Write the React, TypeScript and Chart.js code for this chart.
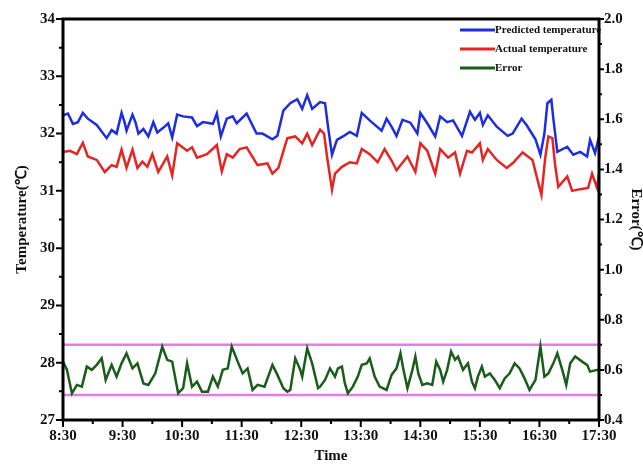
import React, { useEffect, useRef } from 'react';
import { Chart, registerables } from 'chart.js';

Chart.register(...registerables);

// Time axis: minutes after 8:30
const xTickLabels = ['8:30', '9:30', '10:30', '11:30', '12:30', '13:30', '14:30', '15:30', '16:30', '17:30'];

const predTimes = [0, 5, 10, 15, 20, 25, 34, 44, 49, 54, 59, 62, 64, 70, 73, 76, 81, 86, 91, 95, 101, 106, 110, 115, 121, 130, 135, 141, 151, 155, 159, 165, 171, 175, 185, 195, 201, 211, 216, 222, 229, 236, 241, 246, 251, 259, 264, 267, 271, 276, 282, 289, 296, 301, 309, 321, 326, 331, 336, 342, 350, 357, 360, 367, 375, 380, 387, 393, 402, 410, 415, 420, 423, 428, 437, 448, 453, 462, 467, 476, 481, 485, 488, 492, 494, 498, 508, 514, 521, 528, 531, 536, 540];
const predValues = [32.32, 32.35, 32.17, 32.2, 32.36, 32.26, 32.15, 31.92, 32.06, 32.0, 32.36, 32.2, 32.05, 32.33, 32.2, 32.0, 32.08, 31.95, 32.2, 32.02, 32.1, 32.18, 31.93, 32.33, 32.3, 32.28, 32.13, 32.2, 32.17, 32.35, 31.95, 32.26, 32.3, 32.18, 32.35, 32.0, 32.0, 31.9, 31.96, 32.4, 32.53, 32.6, 32.43, 32.67, 32.43, 32.55, 32.53, 32.12, 31.63, 31.89, 31.95, 32.03, 31.96, 32.36, 32.23, 32.05, 32.26, 32.12, 31.96, 32.24, 32.19, 32.0, 32.36, 32.18, 31.95, 32.3, 32.2, 32.23, 31.96, 32.38, 32.24, 32.36, 32.15, 32.32, 32.12, 31.96, 32.0, 32.26, 32.15, 31.9, 31.63, 32.0, 32.53, 32.59, 32.26, 31.68, 31.77, 31.63, 31.68, 31.6, 31.89, 31.66, 31.95];

const actualTimes = [0, 7, 14, 20, 25, 34, 42, 49, 54, 59, 64, 70, 75, 80, 85, 90, 96, 105, 110, 115, 125, 130, 135, 145, 155, 160, 165, 171, 178, 185, 196, 206, 211, 217, 226, 234, 241, 246, 251, 259, 263, 266, 271, 274, 281, 289, 296, 301, 309, 317, 324, 331, 336, 347, 355, 360, 367, 375, 380, 388, 395, 400, 407, 412, 420, 423, 428, 437, 447, 453, 463, 473, 479, 482, 486, 489, 493, 496, 499, 508, 513, 521, 529, 533, 538, 540];
const actualValues = [31.68, 31.7, 31.64, 31.84, 31.6, 31.54, 31.33, 31.45, 31.42, 31.72, 31.4, 31.72, 31.4, 31.51, 31.42, 31.64, 31.33, 31.6, 31.27, 31.83, 31.7, 31.76, 31.58, 31.64, 31.8, 31.34, 31.64, 31.58, 31.73, 31.76, 31.45, 31.48, 31.3, 31.4, 31.92, 31.95, 31.83, 32.0, 31.8, 32.07, 32.0, 31.6, 31.02, 31.3, 31.42, 31.5, 31.48, 31.73, 31.64, 31.5, 31.73, 31.53, 31.36, 31.6, 31.33, 31.83, 31.7, 31.3, 31.73, 31.58, 31.67, 31.3, 31.7, 31.67, 31.83, 31.54, 31.73, 31.54, 31.4, 31.48, 31.67, 31.54, 31.13, 30.93, 31.6, 31.95, 31.92, 31.42, 31.07, 31.25, 31.0, 31.03, 31.05, 31.3, 31.05, 31.3];

const errorTimes = [0, 4, 9, 14, 19, 24, 29, 34, 39, 43, 49, 54, 59, 64, 70, 75, 81, 86, 93, 100, 105, 110, 116, 121, 125, 130, 135, 140, 146, 151, 156, 161, 166, 170, 176, 181, 186, 191, 196, 203, 211, 216, 222, 226, 229, 234, 239, 241, 246, 251, 257, 259, 264, 269, 274, 277, 281, 284, 287, 292, 297, 301, 306, 309, 314, 319, 326, 331, 336, 340, 343, 347, 352, 355, 358, 362, 367, 372, 376, 380, 383, 387, 391, 395, 398, 403, 408, 412, 415, 418, 422, 425, 430, 435, 440, 445, 450, 455, 460, 465, 470, 476, 481, 485, 489, 494, 498, 503, 507, 511, 516, 523, 528, 531, 538, 540];
const errorValues = [0.633, 0.6, 0.506, 0.54, 0.533, 0.613, 0.6, 0.62, 0.646, 0.56, 0.62, 0.573, 0.626, 0.666, 0.606, 0.626, 0.546, 0.54, 0.586, 0.693, 0.64, 0.633, 0.507, 0.527, 0.626, 0.533, 0.553, 0.513, 0.513, 0.573, 0.533, 0.6, 0.606, 0.693, 0.633, 0.586, 0.606, 0.52, 0.54, 0.533, 0.62, 0.58, 0.527, 0.513, 0.52, 0.646, 0.6, 0.573, 0.686, 0.626, 0.527, 0.533, 0.56, 0.606, 0.573, 0.606, 0.613, 0.546, 0.507, 0.533, 0.573, 0.62, 0.626, 0.646, 0.573, 0.533, 0.52, 0.58, 0.606, 0.666, 0.6, 0.527, 0.6, 0.653, 0.586, 0.54, 0.546, 0.54, 0.633, 0.6, 0.553, 0.6, 0.673, 0.64, 0.653, 0.6, 0.626, 0.553, 0.527, 0.573, 0.613, 0.573, 0.586, 0.56, 0.527, 0.566, 0.586, 0.626, 0.606, 0.566, 0.52, 0.56, 0.693, 0.573, 0.586, 0.626, 0.666, 0.6, 0.54, 0.626, 0.653, 0.633, 0.62, 0.593, 0.6, 0.6];

const errorBounds = [0.7, 0.5];
const timeRange = [0, 540];

const FONT = "'Liberation Serif', 'Times New Roman', serif";

const toPoints = (xs: number[], ys: number[]) => xs.map((x, i) => ({ x, y: ys[i] }));

const framePlugin = {
  id: 'frameTicksLegend',
  afterDraw(chart: any) {
    const { ctx, chartArea, scales } = chart;
    const { left, right, top, bottom } = chartArea;
    const xs = scales.x, ys = scales.y, y1 = scales.y1;
    ctx.save();
    ctx.strokeStyle = '#000';
    ctx.lineWidth = 2;
    ctx.beginPath();
    for (let m = timeRange[0]; m <= timeRange[1]; m += 30) {
      const px = xs.getPixelForValue(m);
      const len = m % 60 === 0 ? 7 : 4;
      ctx.moveTo(px, bottom);
      ctx.lineTo(px, bottom + len);
    }
    for (let k = 54; k <= 68; k++) {
      const v = k / 2;
      const py = ys.getPixelForValue(v);
      const len = k % 2 === 0 ? 7 : 4;
      ctx.moveTo(left, py);
      ctx.lineTo(left - len, py);
    }
    for (let k = 4; k <= 20; k++) {
      const v = k / 10;
      const py = y1.getPixelForValue(v);
      const len = k % 2 === 0 ? 5 : 3;
      ctx.moveTo(right, py);
      ctx.lineTo(right + len, py);
    }
    ctx.stroke();
    ctx.lineWidth = 3;
    ctx.strokeRect(left, top, right - left, bottom - top);

    // legend
    const items = chart.data.datasets.filter((d: any) => d.label);
    ctx.font = `bold 11px ${FONT}`;
    ctx.textBaseline = 'middle';
    ctx.textAlign = 'left';
    items.forEach((d: any, i: number) => {
      const yy = top + 11 + i * 19;
      ctx.strokeStyle = d.borderColor;
      ctx.lineWidth = 3;
      ctx.beginPath();
      ctx.moveTo(right - 139, yy);
      ctx.lineTo(right - 104, yy);
      ctx.stroke();
      ctx.fillStyle = '#111';
      ctx.fillText(d.label, right - 104, yy);
    });
    ctx.restore();
  },
};

export default function App() {
  const ref = useRef<HTMLCanvasElement | null>(null);

  useEffect(() => {
    if (!ref.current) return;
    const lineStyle = { borderWidth: 2.5, pointRadius: 0, tension: 0, fill: false };
    const chart = new Chart(ref.current, {
      type: 'line',
      data: {
        datasets: [
          { label: 'Predicted temperature', data: toPoints(predTimes, predValues), borderColor: '#1c2ee0', yAxisID: 'y', ...lineStyle },
          { label: 'Actual temperature', data: toPoints(actualTimes, actualValues), borderColor: '#e52424', yAxisID: 'y', ...lineStyle },
          { label: 'Error', data: toPoints(errorTimes, errorValues), borderColor: '#1a5c1a', yAxisID: 'y1', ...lineStyle },
          { label: '', data: toPoints(timeRange, [errorBounds[0], errorBounds[0]]), borderColor: '#e67ae6', yAxisID: 'y1', ...lineStyle },
          { label: '', data: toPoints(timeRange, [errorBounds[1], errorBounds[1]]), borderColor: '#e67ae6', yAxisID: 'y1', ...lineStyle },
        ],
      },
      options: {
        animation: false,
        responsive: false,
        maintainAspectRatio: false,
        layout: { padding: { top: 19, left: 0, right: 0, bottom: 0 } },
        plugins: { legend: { display: false }, tooltip: { enabled: false } },
        scales: {
          x: {
            type: 'linear',
            position: 'bottom',
            min: timeRange[0],
            max: timeRange[1],
            grid: { display: false, drawTicks: false },
            border: { display: false },
            ticks: {
              stepSize: 60,
              autoSkip: false,
              maxRotation: 0,
              padding: 7,
              color: '#111',
              font: { family: FONT, size: 15, weight: 'bold' },
              callback: (v: any) => xTickLabels[Math.round(Number(v) / 60)] ?? '',
            },
            title: { display: true, text: 'Time', color: '#111', padding: 0, font: { family: FONT, size: 15, weight: 'bold', lineHeight: 1 } },
            afterFit: (s: any) => { s.height = 44; },
          },
          y: {
            position: 'left',
            min: 27,
            max: 34,
            grid: { display: false, drawTicks: false },
            border: { display: false },
            ticks: { stepSize: 1, padding: 8, color: '#111', font: { family: FONT, size: 15, weight: 'bold' } },
            title: { display: true, text: 'Temperature(℃)', color: '#111', padding: { top: 13, bottom: 0 }, font: { family: FONT, size: 15, weight: 'bold', lineHeight: 1.2 } },
            afterFit: (s: any) => { s.width = 63; },
          },
          y1: {
            position: 'right',
            min: 0.4,
            max: 2.0,
            grid: { display: false, drawTicks: false },
            border: { display: false },
            ticks: {
              stepSize: 0.2,
              padding: 5,
              color: '#111',
              font: { family: FONT, size: 15, weight: 'bold' },
              callback: (v: any) => Number(v).toFixed(1),
            },
            title: { display: true, text: 'Error(℃)', color: '#111', padding: 0, font: { family: FONT, size: 15, weight: 'bold', lineHeight: 1 } },
            afterFit: (s: any) => { s.width = 44; },
          },
        },
      },
      plugins: [framePlugin],
    } as any);
    return () => chart.destroy();
  }, []);

  return (
    <div style={{ position: 'absolute', left: 0, top: 0, width: 643, height: 464, background: '#fff' }}>
      <canvas ref={ref} width={643} height={464} style={{ display: 'block' }} />
    </div>
  );
}
